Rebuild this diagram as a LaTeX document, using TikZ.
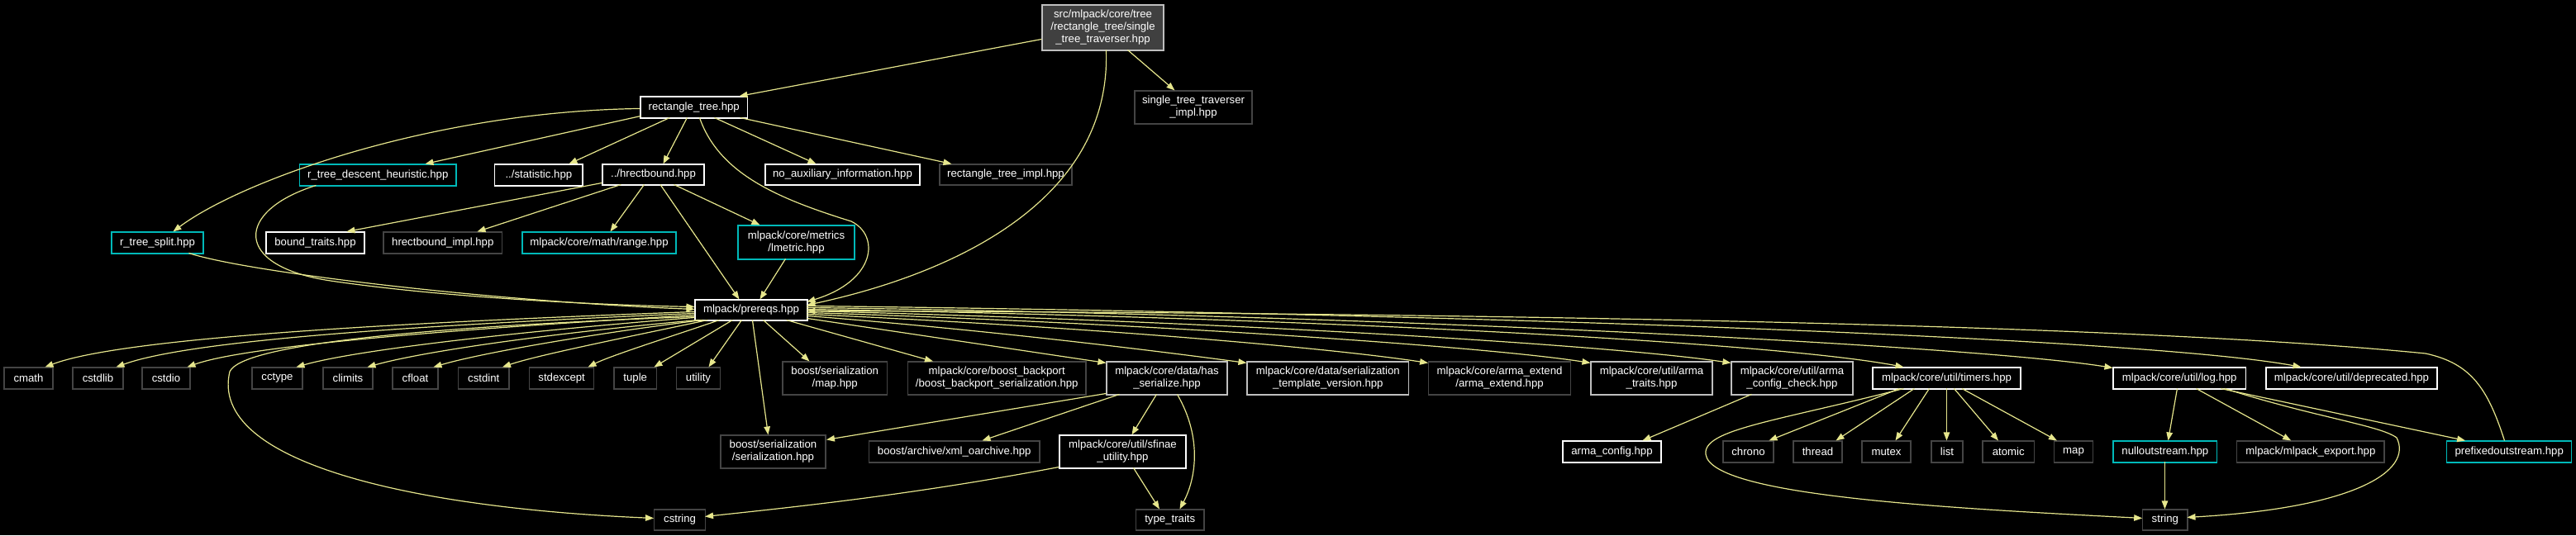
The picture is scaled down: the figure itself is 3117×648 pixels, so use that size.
\documentclass[tikz,border=0pt]{standalone}
\usepackage{fontspec}
\setmainfont{Liberation Sans}
\usetikzlibrary{arrows.meta}
\definecolor{edgec}{RGB}{230,230,140}
\definecolor{lightb}{RGB}{191,191,191}
\definecolor{darkb}{RGB}{68,68,68}
\definecolor{cyanb}{RGB}{0,185,185}
\definecolor{rootfill}{RGB}{64,64,64}
\begin{document}
\begin{tikzpicture}[x=1pt,y=-1pt,
  box/.style={draw,fill=black,text=white,inner sep=0pt,line width=1.1pt,align=center,font=\fontsize{13.2}{15}\selectfont},
  sz/.style 2 args={minimum width=#1pt,minimum height=#2pt},
  wb/.style={box,draw=white},
  lb/.style={box,draw=lightb},
  db/.style={box,draw=darkb},
  cb/.style={box,draw=cyanb},
  conn/.style={draw=edgec,line width=1.2pt,-{Triangle[length=10pt,width=7.5pt,fill=edgec]}}]
\useasboundingbox (0,0) rectangle (3117,648);
\fill[black] (0,0) rectangle (3117,648);
% nodes
\node[lb,sz={147}{55},fill=rootfill] (root) at (1334.5,33.5) {src/mlpack/core/tree\\/rectangle\_tree/single\\\_tree\_traverser.hpp};
\node[db,sz={142}{40}] (stimpl) at (1444,130) {single\_tree\_traverser\\\_impl.hpp};
\node[wb,sz={129.5}{26}] (rtree) at (839.75,130) {rectangle\_tree.hpp};
\node[cb,sz={189.5}{26}] (rdesc) at (457.25,212) {r\_tree\_descent\_heuristic.hpp};
\node[wb,sz={106.3}{26}] (stat) at (651.85,212) {../statistic.hpp};
\node[wb,sz={123}{25}] (hrect) at (790.5,211.5) {../hrectbound.hpp};
\node[wb,sz={187}{25}] (noaux) at (1019.5,211.5) {no\_auxiliary\_information.hpp};
\node[db,sz={160}{25}] (rtimpl) at (1217,211.5) {rectangle\_tree\_impl.hpp};
\node[cb,sz={111}{26}] (rsplit) at (190.5,294) {r\_tree\_split.hpp};
\node[wb,sz={119}{26}] (btraits) at (381.5,294) {bound\_traits.hpp};
\node[db,sz={143.6}{26}] (himpl) at (535.8,294) {hrectbound\_impl.hpp};
\node[cb,sz={186}{26}] (range) at (725,294) {mlpack/core/math/range.hpp};
\node[cb,sz={141}{41}] (lmetric) at (963.5,293.5) {mlpack/core/metrics\\/lmetric.hpp};
\node[wb,sz={136}{25}] (prereqs) at (909,375.5) {mlpack/prereqs.hpp};
% row 1
\node[db,sz={59}{26}] (cmath) at (34.5,458) {cmath};
\node[db,sz={61}{26}] (cstdlib) at (118.5,458) {cstdlib};
\node[db,sz={58}{26}] (cstdio) at (201,458) {cstdio};
\node[db,sz={61}{26}] (cctype) at (335.5,458) {cctype};
\node[db,sz={60}{26}] (climits) at (421,458) {climits};
\node[db,sz={55}{26}] (cfloat) at (502.5,458) {cfloat};
\node[db,sz={61.5}{26}] (cstdint) at (585.25,458) {cstdint};
\node[db,sz={78.1}{26}] (stdexcept) at (679.65,458) {stdexcept};
\node[db,sz={51.5}{26}] (tuple) at (768.75,458) {tuple};
\node[db,sz={52.8}{26}] (utility) at (845,458) {utility};
\node[db,sz={126.5}{40}] (bmap) at (1010.25,458) {boost/serialization\\/map.hpp};
\node[db,sz={215.5}{40}] (backport) at (1206.25,458) {mlpack/core/boost\_backport\\/boost\_backport\_serialization.hpp};
\node[lb,sz={146}{40}] (hasser) at (1412,458) {mlpack/core/data/has\\\_serialize.hpp};
\node[lb,sz={195.6}{40}] (stv) at (1606.8,458) {mlpack/core/data/serialization\\\_template\_version.hpp};
\node[db,sz={171.9}{40}] (armaext) at (1814.55,458) {mlpack/core/arma\_extend\\/arma\_extend.hpp};
\node[lb,sz={147}{40}] (armatraits) at (1998.5,458) {mlpack/core/util/arma\\\_traits.hpp};
\node[lb,sz={147}{40}] (armacc) at (2168.5,458) {mlpack/core/util/arma\\\_config\_check.hpp};
\node[wb,sz={179}{26}] (timers) at (2355.5,458) {mlpack/core/util/timers.hpp};
\node[wb,sz={160.4}{26}] (log) at (2637.2,458) {mlpack/core/util/log.hpp};
\node[wb,sz={207}{26}] (deprecated) at (2845.5,458) {mlpack/core/util/deprecated.hpp};
% row 2
\node[db,sz={127}{40}] (serhpp) at (935.5,547) {boost/serialization\\/serialization.hpp};
\node[db,sz={206.5}{26}] (xml) at (1154.75,547) {boost/archive/xml\_oarchive.hpp};
\node[wb,sz={153}{40}] (sfinae) at (1358.5,547) {mlpack/core/util/sfinae\\\_utility.hpp};
\node[wb,sz={119}{26}] (armaconfig) at (1950.5,547) {arma\_config.hpp};
\node[db,sz={61}{26}] (chrono) at (2115.5,547) {chrono};
\node[db,sz={59}{26}] (thread) at (2199.5,547) {thread};
\node[db,sz={59}{26}] (mutex) at (2282.5,547) {mutex};
\node[db,sz={38}{26}] (list) at (2356,547) {list};
\node[db,sz={62.5}{26}] (atomic) at (2430.25,547) {atomic};
\node[db,sz={47}{26}] (smap) at (2509,547) {map};
\node[cb,sz={125.7}{26}] (nullout) at (2619.85,547) {nulloutstream.hpp};
\node[db,sz={178.3}{26}] (export) at (2795.85,547) {mlpack/mlpack\_export.hpp};
\node[cb,sz={151.1}{26}] (prefixed) at (3036.15,547) {prefixedoutstream.hpp};
% row 3
\node[db,sz={62}{25}] (cstring) at (822.6,629.5) {cstring};
\node[db,sz={82.5}{25}] (ttraits) at (1415.75,629.5) {type\_traits};
\node[db,sz={54.3}{25}] (string) at (2619.85,629.5) {string};
% edges from root
\draw[conn] ([shift={(0,42)}]root.north west) -- ([shift={(120,0)}]rtree.north west);
\draw[conn] ([shift={(104,55)}]root.north west) -- ([shift={(49,0)}]stimpl.north west);
\draw[conn] ([shift={(78,55)}]root.north west) .. controls (1345,240) and (1160,330) .. ([shift={(136,7)}]prereqs.north west);
% edges from rectangle_tree
\draw[conn] ([shift={(0,15)}]rtree.north west) .. controls (520,135) and (290,220) .. ([shift={(75,0)}]rsplit.north west);
\draw[conn] ([shift={(1,24)}]rtree.north west) -- ([shift={(152.5,0)}]rdesc.north west);
\draw[conn] ([shift={(36,26)}]rtree.north west) -- ([shift={(90.3,0)}]stat.north west);
\draw[conn] ([shift={(57,26)}]rtree.north west) -- ([shift={(74,0)}]hrect.north west);
\draw[conn] ([shift={(72,26)}]rtree.north west) .. controls (870,210) and (940,240) .. (1030,268) .. controls (1065,285) and (1060,340) .. ([shift={(136,3)}]prereqs.north west);
\draw[conn] ([shift={(90,26)}]rtree.north west) -- ([shift={(62,0)}]noaux.north west);
\draw[conn] ([shift={(121,26)}]rtree.north west) -- ([shift={(15,0)}]rtimpl.north west);
% into prereqs from left
\draw[conn] ([shift={(20.5,26)}]rdesc.north west) .. controls (285,255) and (280,322) .. (400,340) .. controls (550,362) and (750,370) .. ([shift={(0,9)}]prereqs.north west);
\draw[conn] ([shift={(94,26)}]rsplit.north west) .. controls (300,330) and (600,365) .. ([shift={(0,12)}]prereqs.north west);
% hrectbound
\draw[conn] ([shift={(0,23)}]hrect.north west) -- ([shift={(98,0)}]btraits.north west);
\draw[conn] ([shift={(23,25)}]hrect.north west) -- ([shift={(114,0)}]himpl.north west);
\draw[conn] ([shift={(51,25)}]hrect.north west) -- ([shift={(107,0)}]range.north west);
\draw[conn] ([shift={(70.5,25)}]hrect.north west) -- ([shift={(54,0)}]prereqs.north west);
\draw[conn] ([shift={(87,25)}]hrect.north west) -- ([shift={(27,0)}]lmetric.north west);
\draw[conn] ([shift={(58,41)}]lmetric.north west) -- ([shift={(79,0)}]prereqs.north west);
% prereqs to std headers
\draw[conn] ([shift={(0,15)}]prereqs.north west) .. controls (500,390) and (150,408) .. ([shift={(50,0)}]cmath.north west);
\draw[conn] ([shift={(0,17)}]prereqs.north west) .. controls (500,394) and (230,412) .. ([shift={(53,0)}]cstdlib.north west);
\draw[conn] ([shift={(0,19)}]prereqs.north west) .. controls (560,398) and (300,418) .. ([shift={(55,0)}]cstdio.north west);
\draw[conn] ([shift={(0,22)}]prereqs.north west) .. controls (620,402) and (430,424) .. ([shift={(54,0)}]cctype.north west);
\draw[conn] ([shift={(5,25)}]prereqs.north west) .. controls (660,404) and (510,426) .. ([shift={(54,0)}]climits.north west);
\draw[conn] ([shift={(10,25)}]prereqs.north west) .. controls (710,405) and (580,428) .. ([shift={(50,0)}]cfloat.north west);
\draw[conn] ([shift={(16,25)}]prereqs.north west) .. controls (760,408) and (650,430) .. ([shift={(54,0)}]cstdint.north west);
\draw[conn] ([shift={(30,25)}]prereqs.north west) .. controls (820,405) and (740,430) .. ([shift={(71.4,0)}]stdexcept.north west);
\draw[conn] ([shift={(46,25)}]prereqs.north west) -- ([shift={(49,0)}]tuple.north west);
\draw[conn] ([shift={(57,25)}]prereqs.north west) -- ([shift={(39.4,0)}]utility.north west);
\draw[conn] ([shift={(0,21)}]prereqs.north west) .. controls (500,396) and (292,418) .. (278,450) .. controls (252,560) and (500,615) .. ([shift={(0,11)}]cstring.north west);
\draw[conn] ([shift={(70,25)}]prereqs.north west) -- ([shift={(58,0)}]serhpp.north west);
\draw[conn] ([shift={(83,25)}]prereqs.north west) -- ([shift={(33,0)}]bmap.north west);
\draw[conn] ([shift={(111,25)}]prereqs.north west) -- ([shift={(31,0)}]backport.north west);
\draw[conn] ([shift={(136,23)}]prereqs.north west) -- ([shift={(0,2)}]hasser.north west);
\draw[conn] ([shift={(136,20)}]prereqs.north west) .. controls (1200,400) and (1400,425) .. ([shift={(0,2)}]stv.north west);
\draw[conn] ([shift={(136,18)}]prereqs.north west) .. controls (1300,395) and (1600,420) .. ([shift={(0,2)}]armaext.north west);
\draw[conn] ([shift={(136,16)}]prereqs.north west) .. controls (1400,392) and (1800,420) .. ([shift={(0,2)}]armatraits.north west);
\draw[conn] ([shift={(136,14)}]prereqs.north west) .. controls (1500,390) and (1950,418) .. ([shift={(0,2)}]armacc.north west);
\draw[conn] ([shift={(136,12)}]prereqs.north west) .. controls (1600,385) and (2150,415) .. ([shift={(38,0)}]timers.north west);
\draw[conn] ([shift={(136,10)}]prereqs.north west) .. controls (1700,382) and (2400,420) .. ([shift={(0,1)}]log.north west);
\draw[conn] ([shift={(136,8)}]prereqs.north west) .. controls (1800,380) and (2600,410) .. ([shift={(43,0)}]deprecated.north west);
\draw[conn] ([shift={(70.4,0)}]prefixed.north west) .. controls (3010,470) and (2990,440) .. (2935,428) .. controls (2500,385) and (1500,378) .. ([shift={(136,14)}]prereqs.north west);
% has_serialize
\draw[conn] ([shift={(0,39)}]hasser.north west) -- ([shift={(128.5,6)}]serhpp.north west);
\draw[conn] ([shift={(16,40)}]hasser.north west) -- ([shift={(137.5,0)}]xml.north west);
\draw[conn] ([shift={(61,40)}]hasser.north west) -- ([shift={(88,0)}]sfinae.north west);
\draw[conn] ([shift={(86,40)}]hasser.north west) .. controls (1455,530) and (1447,580) .. ([shift={(53.5,0)}]ttraits.north west);
\draw[conn] ([shift={(90,40)}]sfinae.north west) -- ([shift={(29,0)}]ttraits.north west);
\draw[conn] ([shift={(0,39)}]sfinae.north west) .. controls (1100,600) and (950,615) .. ([shift={(62,9)}]cstring.north west);
% arma config check
\draw[conn] ([shift={(25,40)}]armacc.north west) -- ([shift={(97,0)}]armaconfig.north west);
% timers
\draw[conn] ([shift={(33,26)}]timers.north west) -- ([shift={(56,0)}]chrono.north west);
\draw[conn] ([shift={(51,26)}]timers.north west) -- ([shift={(52,0)}]thread.north west);
\draw[conn] ([shift={(69,26)}]timers.north west) -- ([shift={(41,0)}]mutex.north west);
\draw[conn] ([shift={(90,26)}]timers.north west) -- ([shift={(19,0)}]list.north west);
\draw[conn] ([shift={(99,26)}]timers.north west) -- ([shift={(19.5,0)}]atomic.north west);
\draw[conn] ([shift={(108.5,26)}]timers.north west) -- ([shift={(4,0)}]smap.north west);
\draw[conn] ([shift={(38,26)}]timers.north west) .. controls (2150,510) and (2060,520) .. (2064,550) .. controls (2070,600) and (2350,615) .. ([shift={(0,11)}]string.north west);
% log
\draw[conn] ([shift={(78,26)}]log.north west) -- ([shift={(67,0)}]nullout.north west);
\draw[conn] ([shift={(101,26)}]log.north west) -- ([shift={(66,0)}]export.north west);
\draw[conn] ([shift={(130.6,26)}]log.north west) -- ([shift={(23,0)}]prefixed.north west);
\draw[conn] ([shift={(135.5,26)}]log.north west) .. controls (2800,505) and (2880,515) .. (2900,530) .. controls (2920,570) and (2850,615) .. ([shift={(54.3,10)}]string.north west);
\draw[conn] ([shift={(63,26)}]nullout.north west) -- ([shift={(27.3,0)}]string.north west);
\end{tikzpicture}
\end{document}
